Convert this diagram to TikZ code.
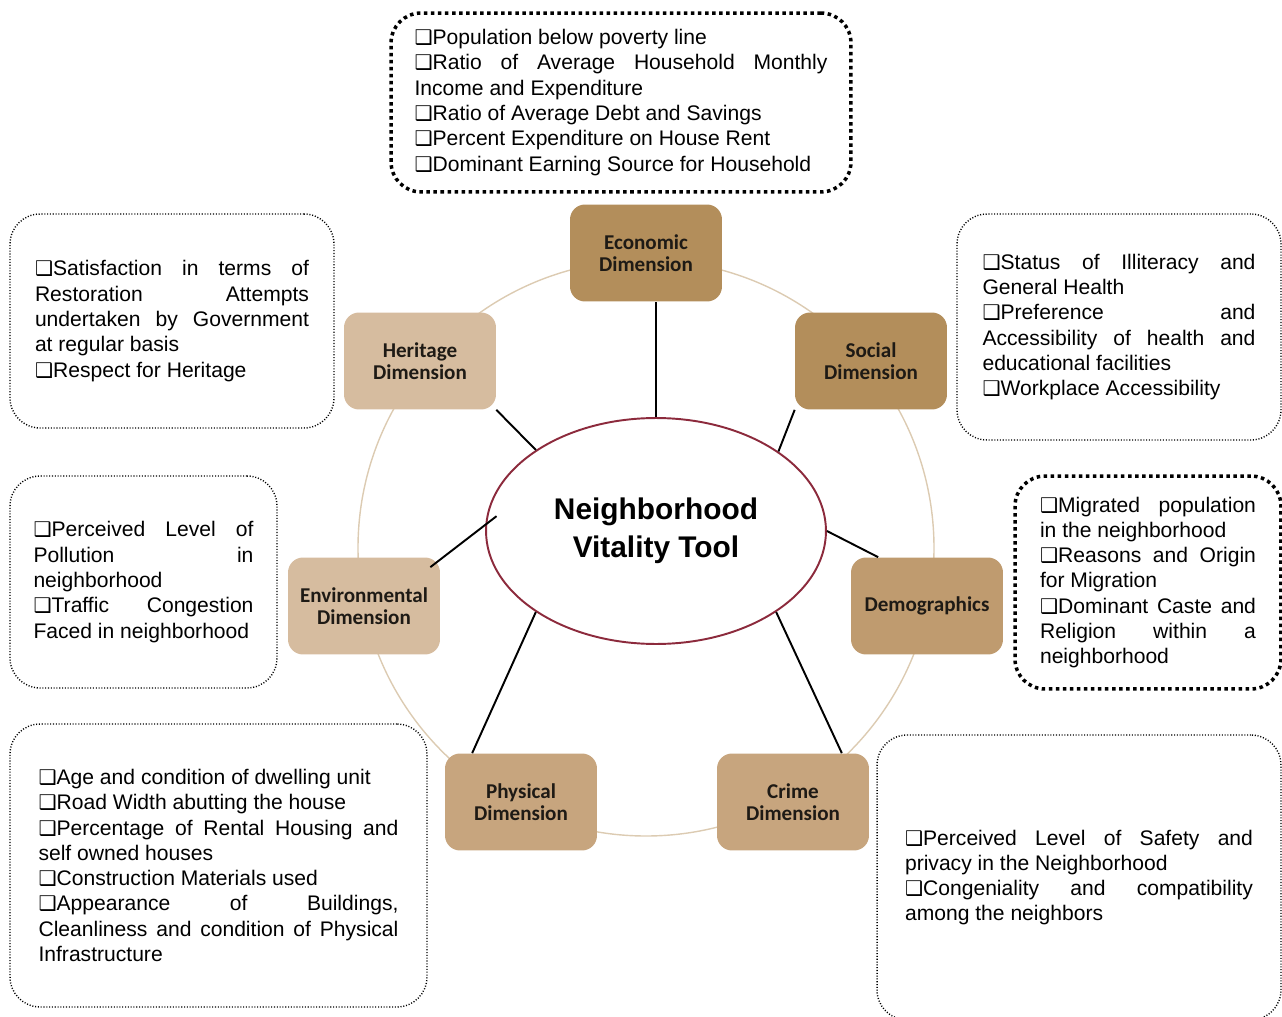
\documentclass[tikz,border=0pt]{standalone}
\usepackage{fontspec}
\setmainfont{Liberation Sans}
\newfontfamily\dimfont{Carlito}
\newfontfamily\dingfont{DejaVu Sans}
\usetikzlibrary{shapes.geometric,calc}
\definecolor{econtan}{HTML}{B38E5B}
\definecolor{demotan}{HTML}{BF9B6F}
\definecolor{phystan}{HTML}{C7A57E}
\definecolor{heritan}{HTML}{D6BC9F}
\definecolor{ringtan}{HTML}{DCCBB2}
\definecolor{toolred}{HTML}{8C2A3C}
\definecolor{dimtext}{HTML}{1E1A15}
\newcommand\bul{{\dingfont\fontsize{11.5}{11.5}\selectfont\char"2751}}
\newcommand\infofont{\fontsize{12}{14.4}\selectfont\parindent=0pt\tolerance=10000\hbadness=10000\hyphenpenalty=10000\relax}
\newcommand\infoend{\par\vskip-3.5pt}
\begin{document}
\begin{tikzpicture}[x=0.02cm,y=-0.02cm,
  dimbox/.style={rounded corners=0.3cm,minimum width=3.04cm,minimum height=1.94cm,
    align=center,inner sep=2pt,text=dimtext,font=\dimfont\bfseries\fontsize{12}{12.5}\selectfont},
  infobox/.style={draw,rounded corners=0.6cm,inner sep=0pt,align=justify,font=\infofont},
  thindots/.style={infobox,line width=0.8pt,dash pattern=on 0.6pt off 1pt},
  thickdots/.style={infobox,line width=2pt,dash pattern=on 2pt off 2pt},
  spoke/.style={line width=1.1pt}]
\useasboundingbox (0,0) rectangle (1282,1017);
% ring behind the dimensions
\draw[ringtan,line width=0.8pt] (646,548) circle (288);
\node[ellipse,draw=toolred,line width=1.1pt,fill=white,minimum width=6.8cm,minimum height=4.52cm,
  inner sep=0pt,align=center,font=\bfseries\fontsize{17}{21.5}\selectfont] (tool) at (656,531)
  {Neighborhood\\Vitality Tool};
% dimensions
\node[dimbox,fill=econtan] (econ) at (646,253) {Economic\\Dimension};
\node[dimbox,fill=econtan] (soc) at (871,361) {Social\\Dimension};
\node[dimbox,fill=demotan] (demo) at (927,606) {Demographics};
\node[dimbox,fill=phystan] (crime) at (793,802) {Crime\\Dimension};
\node[dimbox,fill=phystan] (phys) at (521,802) {Physical\\Dimension};
\node[dimbox,fill=heritan] (env) at (364,606) {Environmental\\Dimension};
\node[dimbox,fill=heritan] (her) at (420,361) {Heritage\\Dimension};
% indicators
\node[thickdots,minimum width=9.2cm,minimum height=3.58cm,text width=8.26cm] (econinfo) at (621,102.5)
 {\bul Population below poverty line\par
  \bul Ratio of Average Household Monthly\linebreak Income and Expenditure\par
  \bul Ratio of Average Debt and Savings\par
  \bul Percent Expenditure on House Rent\par
  \bul Dominant Earning Source for Household\infoend};
\node[thindots,minimum width=6.48cm,minimum height=4.28cm,text width=5.48cm] (herinfo) at (172,321)
 {\bul Satisfaction in terms of\linebreak Restoration Attempts\linebreak
  undertaken by Government\linebreak at regular basis\par
  \bul Respect for Heritage\infoend};
\node[thindots,minimum width=6.48cm,minimum height=4.52cm,text width=5.46cm] (socinfo) at (1119,327)
 {\bul Status of Illiteracy and\linebreak General Health\par
  \bul Preference and\linebreak Accessibility of health and\linebreak educational facilities\par
  \bul Workplace Accessibility\infoend};
\node[thindots,minimum width=5.34cm,minimum height=4.24cm,text width=4.4cm] (envinfo) at (143.5,582)
 {\bul Perceived Level of\linebreak Pollution in\linebreak neighborhood\par
  \bul Traffic Congestion\linebreak Faced in neighborhood\infoend};
\node[thickdots,minimum width=5.32cm,minimum height=4.26cm,text width=4.32cm] (demoinfo) at (1148,582.5)
 {\bul Migrated population\linebreak in the neighborhood\par
  \bul Reasons and Origin\linebreak for Migration\par
  \bul Dominant Caste and\linebreak Religion within a\linebreak neighborhood\infoend};
\node[thindots,minimum width=8.34cm,minimum height=5.66cm,text width=7.2cm] (physinfo) at (218.5,865.5)
 {\bul Age and condition of dwelling unit\par
  \bul Road Width abutting the house\par
  \bul Percentage of Rental Housing and\linebreak self owned houses\par
  \bul Construction Materials used\par
  \bul Appearance of Buildings,\linebreak Cleanliness and condition of Physical\linebreak Infrastructure\infoend};
\node[thindots,minimum width=8.08cm,minimum height=5.7cm,text width=6.96cm] (crimeinfo) at (1079,877.5)
 {\bul Perceived Level of Safety and\linebreak privacy in the Neighborhood\par
  \bul Congeniality and compatibility\linebreak among the neighbors\infoend};
% spokes
\draw[spoke] (tool.north) -- (tool.north |- econ.south);
\draw[spoke] (tool.33) -- (soc.south west);
\draw[spoke] (tool.146) -- (her.south east);
\draw[spoke] ($(env.north east)+(-10,10)$) -- ($(tool.175)+(10,0)$);
\draw[spoke] (tool.east) -- (demo.135);
\draw[spoke] (tool.214) -- (phys.135);
\draw[spoke] (tool.326) -- (crime.45);
\end{tikzpicture}
\end{document}
